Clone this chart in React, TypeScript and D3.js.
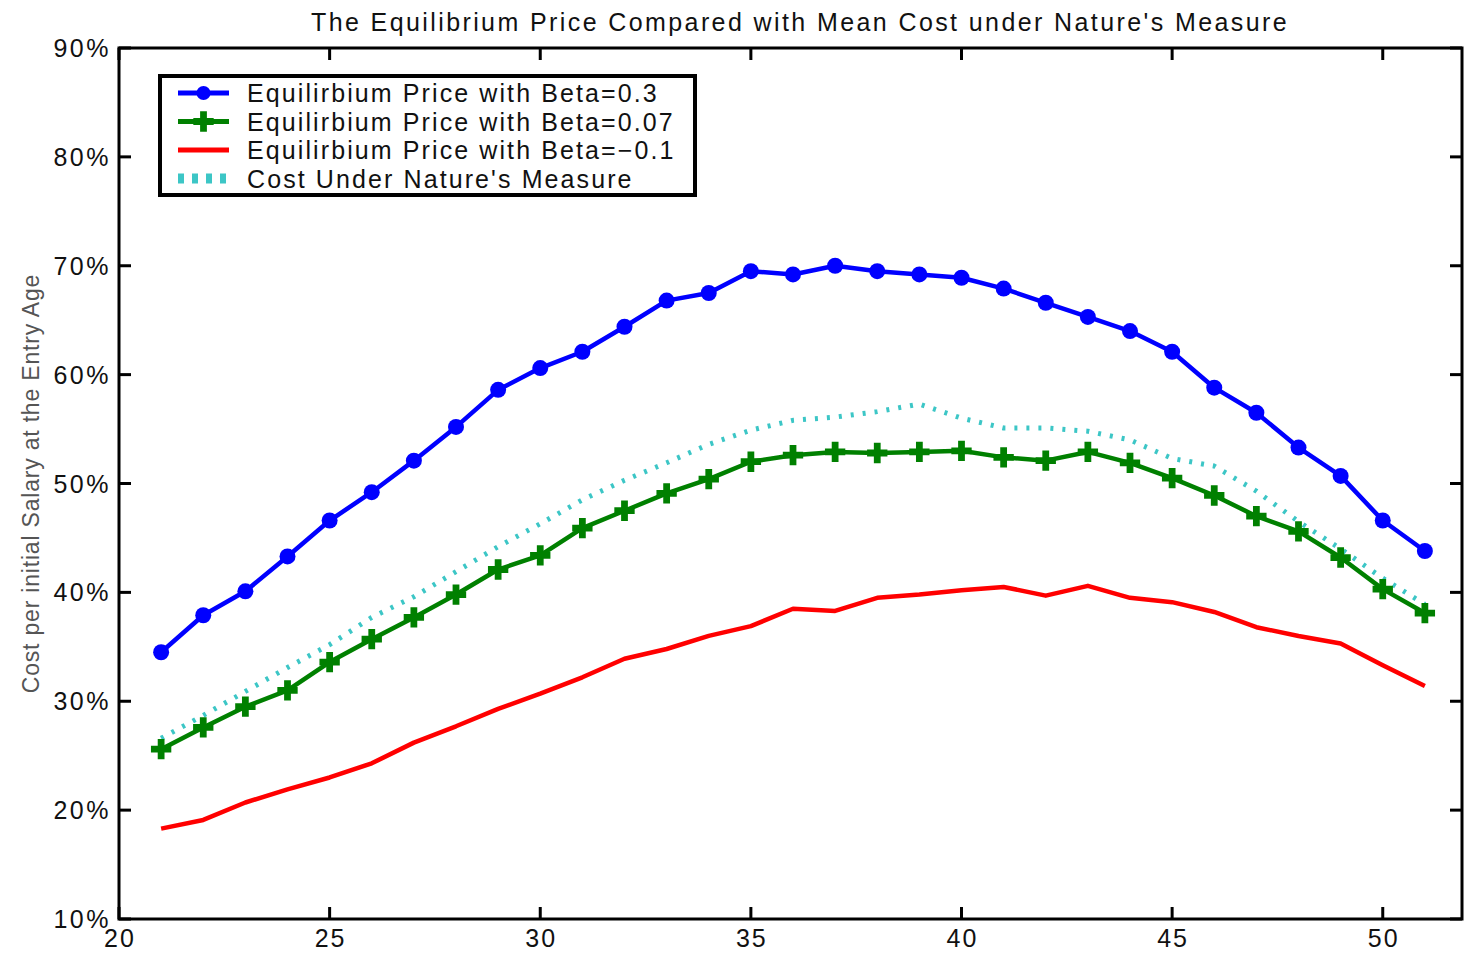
import * as d3 from 'd3';
import React from 'react';

// chart values
const ages = [21, 22, 23, 24, 25, 26, 27, 28, 29, 30, 31, 32, 33, 34, 35, 36, 37, 38, 39, 40, 41, 42, 43, 44, 45, 46, 47, 48, 49, 50, 51];

const betaHigh = [34.5, 37.9, 40.1, 43.3, 46.6, 49.2, 52.1, 55.2, 58.6, 60.6, 62.1, 64.4, 66.8, 67.5, 69.5, 69.2, 70.0, 69.5, 69.2, 68.9, 67.9, 66.6, 65.3, 64.0, 62.1, 58.8, 56.5, 53.3, 50.7, 46.6, 43.8];
const betaMid = [25.6, 27.6, 29.5, 31.0, 33.6, 35.7, 37.7, 39.8, 42.1, 43.4, 45.9, 47.5, 49.1, 50.4, 52.0, 52.6, 52.9, 52.8, 52.9, 53.0, 52.4, 52.1, 52.9, 51.9, 50.5, 48.9, 47.0, 45.6, 43.2, 40.3, 38.1];
const betaLow = [18.3, 19.1, 20.7, 21.9, 23.0, 24.3, 26.2, 27.7, 29.3, 30.7, 32.2, 33.9, 34.8, 36.0, 36.9, 38.5, 38.3, 39.5, 39.8, 40.2, 40.5, 39.7, 40.6, 39.5, 39.1, 38.2, 36.8, 36.0, 35.3, 33.3, 31.4];
const natureCost = [26.6, 28.7, 30.9, 33.1, 35.2, 37.7, 39.6, 41.9, 44.2, 46.3, 48.5, 50.3, 51.9, 53.6, 54.9, 55.8, 56.1, 56.6, 57.3, 56.0, 55.1, 55.1, 54.8, 54.0, 52.3, 51.6, 49.3, 46.5, 44.0, 41.3, 38.9];

const xTicks = [20, 25, 30, 35, 40, 45, 50];
const yTicks = [10, 20, 30, 40, 50, 60, 70, 80, 90];

const legendLabels = [
  'Equilirbium Price with Beta=0.3',
  'Equilirbium Price with Beta=0.07',
  'Equilirbium Price with Beta=\u22120.1',
  "Cost Under Nature's Measure",
];

const W = 1464;
const H = 953;
const margin = { top: 48, right: 2, bottom: 34, left: 119 };
const FONT = '"Liberation Sans", Arial, Helvetica, sans-serif';

export default function App() {
  // axis box ends a bit before 52 (the picture is cropped on the right)
  const x = d3.scaleLinear().domain([20, 52]).range([margin.left, 1467]);
  const y = d3.scaleLinear().domain([10, 90]).range([H - margin.bottom, margin.top]);

  const line = d3.line<number>()
    .x((_, i) => x(ages[i]))
    .y(d => y(d));

  const cross = d3.symbol().type(d3.symbolCross).size(230)();
  const tick = 12;
  const x0 = x(20), x1 = W - margin.right, y0 = y(10), y1 = y(90);

  const series = [
    { values: betaHigh, color: '#0000ff', dash: null, marker: 'circle' },
    { values: betaMid, color: '#008000', dash: null, marker: 'cross' },
    { values: betaLow, color: '#ff0000', dash: null, marker: null },
    { values: natureCost, color: '#3cc6c6', dash: '3 9', marker: null },
  ];

  const lg = { x: 160, y: 76, w: 535, h: 119, row: 28.5 };

  return (
    <svg width={W} height={H} style={{ position: 'absolute', left: 0, top: 0, background: '#fff' }} fontFamily={FONT}>
      <text x={800} y={31} textAnchor="middle" fontSize={25} letterSpacing={2.4} fill="#111">
        The Equilibrium Price Compared with Mean Cost under Nature's Measure
      </text>

      {/* y label */}
      <text transform={`translate(39,${(y0 + y1) / 2}) rotate(-90)`} textAnchor="middle" fontSize={23} letterSpacing={0.8} fill="#555">
        Cost per initial Salary at the Entry Age
      </text>

      {/* series */}
      {series.map((s, k) => (
        <path key={k} d={line(s.values) || ''} fill="none" stroke={s.color}
          strokeWidth={s.dash ? 5 : 4.5} strokeDasharray={s.dash || undefined} strokeLinejoin="round" />
      ))}
      {betaHigh.map((v, i) => (
        <circle key={'b' + i} cx={x(ages[i])} cy={y(v)} r={8} fill="#0000ff" />
      ))}
      {betaMid.map((v, i) => (
        <path key={'g' + i} d={cross || ''} transform={`translate(${x(ages[i])},${y(v)})`} fill="#008000" />
      ))}

      {/* frame and ticks */}
      <rect x={x0} y={y1} width={x1 - x0} height={y0 - y1} fill="none" stroke="#000" strokeWidth={3} />
      {xTicks.map(t => (
        <g key={'x' + t}>
          <line x1={x(t)} x2={x(t)} y1={y0} y2={y0 - tick} stroke="#000" strokeWidth={3} />
          <line x1={x(t)} x2={x(t)} y1={y1} y2={y1 + tick} stroke="#000" strokeWidth={3} />
          <text x={x(t) + 1} y={y0 + 28} textAnchor="middle" fontSize={25} letterSpacing={2} fill="#111">{t}</text>
        </g>
      ))}
      {yTicks.map(t => (
        <g key={'y' + t}>
          <line x1={x0} x2={x0 + tick} y1={y(t)} y2={y(t)} stroke="#000" strokeWidth={3} />
          <line x1={x1} x2={x1 - tick} y1={y(t)} y2={y(t)} stroke="#000" strokeWidth={3} />
          <text x={111} y={y(t) + 9} textAnchor="end" fontSize={25} letterSpacing={2.5} fill="#111">{t}%</text>
        </g>
      ))}

      {/* legend */}
      <rect x={lg.x} y={lg.y} width={lg.w} height={lg.h} fill="#fff" stroke="#000" strokeWidth={4} />
      {legendLabels.map((lab, i) => {
        const s = series[i];
        const cy = lg.y + 17 + i * lg.row;
        return (
          <g key={'l' + i}>
            <line x1={178} x2={229} y1={cy} y2={cy} stroke={s.color} strokeWidth={s.dash ? 10 : 5}
              strokeDasharray={s.dash ? '6 8' : undefined} />
            {s.marker === 'circle' && <circle cx={203.5} cy={cy} r={7} fill={s.color} />}
            {s.marker === 'cross' && <path d={cross || ''} transform={`translate(203.5,${cy})`} fill={s.color} />}
            <text x={247} y={cy + 9} fontSize={25} letterSpacing={2.1} fill="#111">{lab}</text>
          </g>
        );
      })}
    </svg>
  );
}
